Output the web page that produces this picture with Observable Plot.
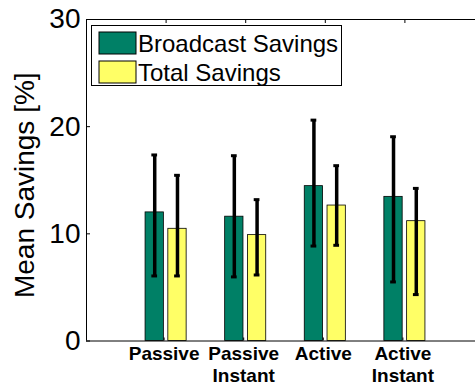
<!DOCTYPE html>
<html><head><meta charset="utf-8">
<script src="https://cdn.jsdelivr.net/npm/d3@7"></script>
<script src="https://cdn.jsdelivr.net/npm/@observablehq/plot@0.6"></script>
<style>
body{margin:0;background:#fff;}
#wrap{position:relative;width:475px;height:385px;overflow:hidden;font-family:"Liberation Sans",Arial,sans-serif;}
#leg{position:absolute;left:91px;top:25px;width:251px;height:61px;box-sizing:border-box;border:1px solid #000;background:#fff;padding:6px 0 0 7px;}
.leg-swatches{font-family:"Liberation Sans",Arial,sans-serif;font-size:24px;margin:0;color:#000;}
.leg-swatch{height:22px;margin-bottom:6.5px;padding-bottom:0 !important;overflow:visible;}
.leg-swatch > svg{margin-right:2px !important;}
.leg-swatch rect{stroke:#000;stroke-width:1;}
.leg-swatches .leg-swatch-label{line-height:22px;position:relative;top:1px;overflow:visible !important;text-overflow:clip !important;}
</style></head>
<body>
<div id="wrap"><div id="leg"></div></div>
<script>
const categories = ["Passive", "Passive\nInstant", "Active", "Active\nInstant"];
const seriesNames = ["Broadcast Savings", "Total Savings"];
const seriesColors = ["#008066", "#ffff66"];
const broadcastMean = [12.0, 11.6, 14.45, 13.45];
const broadcastLow = [6.07, 5.98, 8.86, 5.51];
const broadcastHigh = [17.36, 17.29, 20.61, 19.06];
const totalMean = [10.47, 9.88, 12.64, 11.18];
const totalLow = [6.07, 6.16, 8.93, 4.33];
const totalHigh = [15.46, 13.19, 16.36, 14.24];
const yTicks = [0, 10, 20, 30];
const categoryPositions = [1, 2, 3, 4];

const inner = 0.028, outer = 0.258, cap = 0.036;
const rows = [];
categories.forEach((c, i) => {
  rows.push({pos: i + 1, series: seriesNames[0], side: -1, mean: broadcastMean[i], low: broadcastLow[i], high: broadcastHigh[i]});
  rows.push({pos: i + 1, series: seriesNames[1], side: 1, mean: totalMean[i], low: totalLow[i], high: totalHigh[i]});
});
const center = d => d.pos + d.side * (inner + outer) / 2;

const chart = Plot.plot({
  width: 475, height: 385,
  marginLeft: 86, marginRight: -9, marginTop: 19, marginBottom: 44.5,
  x: {domain: [0, 5], range: [86, 484]},
  y: {domain: [0, 30], range: [340.5, 19]},
  color: {domain: seriesNames, range: seriesColors},
  style: {fontFamily: "'Liberation Sans', Arial, sans-serif", background: "white", color: "black", overflow: "hidden"},
  marks: [
    Plot.rect(rows, {
      x1: d => d.side < 0 ? d.pos - outer : d.pos + inner,
      x2: d => d.side < 0 ? d.pos - inner : d.pos + outer,
      y1: 0, y2: "mean", fill: "series", stroke: "#000", strokeWidth: 0.8
    }),
    Plot.ruleX(rows, {x: center, y1: "low", y2: "high", stroke: "#000", strokeWidth: 3.5}),
    Plot.ruleY(rows, {y: "high", x1: d => center(d) - cap, x2: d => center(d) + cap, stroke: "#000", strokeWidth: 3}),
    Plot.ruleY(rows, {y: "low", x1: d => center(d) - cap, x2: d => center(d) + cap, stroke: "#000", strokeWidth: 3}),
    Plot.ruleX([0], {stroke: "#000", strokeWidth: 1}),
    Plot.ruleY([yTicks[0], yTicks[yTicks.length - 1]], {stroke: "#000", strokeWidth: 1}),
    Plot.axisY({ticks: yTicks, tickSize: -4, tickPadding: 10, fontSize: 28, label: null}),
    Plot.axisX({anchor: "bottom", ticks: categoryPositions, tickFormat: i => categories[i - 1], tickSize: -3, tickPadding: 6.5, fontSize: 19, fontWeight: "bold", lineHeight: 1.14, label: null, dx: -2}),
    Plot.axisX({anchor: "top", ticks: categoryPositions, tickFormat: () => "", tickSize: -3, label: null}),
    Plot.text(["Mean Savings [%]"], {frameAnchor: "left", textAnchor: "middle", rotate: -90, dx: -61, dy: 5, fontSize: 28, fill: "#000"})
  ]
});
document.getElementById("wrap").prepend(chart);

const legend = Plot.legend({
  color: {domain: seriesNames, range: seriesColors},
  legend: "swatches", columns: 1, swatchWidth: 37, swatchHeight: 22, className: "leg"
});
document.getElementById("leg").append(legend);
</script>
</body></html>
